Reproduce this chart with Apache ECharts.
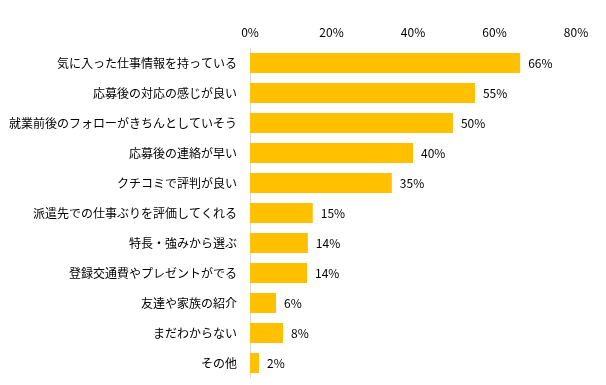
<!DOCTYPE html>
<html><head><meta charset="utf-8">
<script src="https://cdn.jsdelivr.net/npm/echarts@6/dist/echarts.min.js"></script>
<style>html,body{margin:0;padding:0;background:#fff}#c{width:606px;height:385px}</style>
</head><body><div id="c"></div>
<script>
var categories = ['気に入った仕事情報を持っている','応募後の対応の感じが良い','就業前後のフォローがきちんとしていそう','応募後の連絡が早い','クチコミで評判が良い','派遣先での仕事ぶりを評価してくれる','特長・強みから選ぶ','登録交通費やプレゼントがでる','友達や家族の紹介','まだわからない','その他'];
var values = [66.3, 55.2, 49.8, 40.0, 34.8, 15.4, 14.2, 14.0, 6.4, 8.1, 2.2];
var xTicks = [0, 20, 40, 60, 80];

var font = '"Noto Sans CJK JP", "Noto Sans", sans-serif';
var chart = echarts.init(document.getElementById('c'), null, {renderer: 'canvas'});
chart.setOption({
  animation: false,
  backgroundColor: '#fff',
  grid: {left: 250, right: 30, top: 48, height: 330, containLabel: false},
  xAxis: {
    type: 'value', position: 'top', min: xTicks[0], max: xTicks[xTicks.length-1], interval: 20,
    axisLine: {show: false}, axisTick: {show: false}, splitLine: {show: false},
    axisLabel: {formatter: '{value}%', color: '#000', fontSize: 12, fontFamily: font, margin: 10}
  },
  yAxis: {
    type: 'category', data: categories, inverse: true,
    axisLine: {show: true, lineStyle: {color: '#d9d9d9', width: 1}},
    axisTick: {show: false},
    axisLabel: {color: '#000', fontSize: 12, fontFamily: font, margin: 13}
  },
  series: [{
    type: 'bar', data: values, barWidth: 20,
    itemStyle: {color: '#FFC000'},
    label: {show: true, position: 'right', distance: 8, color: '#000', fontSize: 12, fontFamily: font,
      formatter: function(p){ return Math.round(p.value) + '%'; }}
  }]
});
</script></body></html>
